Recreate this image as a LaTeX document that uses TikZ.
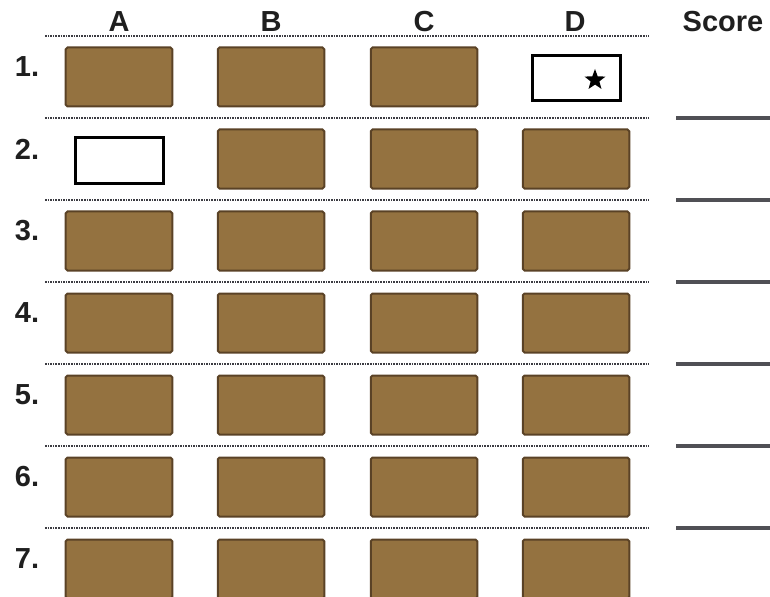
\documentclass[tikz,border=0pt]{standalone}
\usepackage{fontspec}
\setsansfont{Liberation Sans}
\usepackage{xcolor}
\usetikzlibrary{shapes.geometric}
\definecolor{tile}{RGB}{148,114,64}
\definecolor{tileedge}{RGB}{90,66,38}
\definecolor{rule}{RGB}{60,60,66}

\begin{document}
\begin{tikzpicture}[
    x=0.2mm,y=-0.2mm,
    brick/.style={draw=tileedge,fill=tile,line width=0.4mm,rounded corners=1pt,
      minimum width=21.3mm,minimum height=11.8mm,inner sep=0pt},
    slot/.style={draw=black,line width=0.6mm,minimum width=17.6mm,
      minimum height=9mm,inner sep=0pt},
    lbl/.style={font=\sffamily\bfseries\fontsize{16.5}{18}\selectfont,
      text=black!88,inner sep=0pt},
    sep/.style={draw=rule,line width=0.55mm,dash pattern=on 0.3mm off 0.22mm},
    scoreline/.style={draw=rule!90,line width=0.7mm}
  ]
    \useasboundingbox (0,0) rectangle (770,597);
    % column heads
    \foreach \c/\x in {A/119,B/271,C/424,D/575}
      \node[lbl] (head\c) at (\x,22) {\c};
    \node[lbl] (headScore) at (723,22) {Score};
    % rules
    \foreach \k in {0,...,6}
      \draw[sep] (45,{36+82*\k}) -- (649,{36+82*\k});
    \foreach \k in {1,...,6}
      \draw[scoreline] (676,{36+82*\k}) -- (770,{36+82*\k});
    % rows of tiles
    \foreach \r in {1,...,7} {
      \pgfmathsetmacro\y{77+82*(\r-1)}
      \node[lbl] (row\r) at (27,{\y-10}) {\r.};
      \foreach \c/\x in {A/119,B/271,C/424,D/576} {
        \pgfmathtruncatemacro\isempty{(\r==1 && \x==576) || (\r==2 && \x==119)}
        \ifnum\isempty=0
          \node[brick] (tile\r\c) at (\x,\y) {};
        \fi
      }
    }
    \node[slot] (slot1D) at (576.5,78) {};
    \node[slot] (slot2A) at (119.5,160.5) {};
    \node[star,star points=5,star point ratio=2.4,fill=black,
      minimum size=4.4mm,inner sep=0pt] (mark1D) at (595,80) {};
  \end{tikzpicture}
\end{document}
